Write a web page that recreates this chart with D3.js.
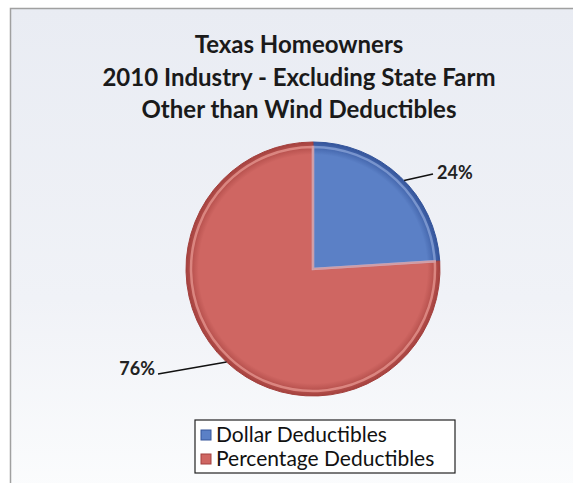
<!DOCTYPE html>
<html>
<head>
<meta charset="utf-8">
<script src="https://cdn.jsdelivr.net/npm/d3@7"></script>
<style>
  body { margin: 0; background: #fff; }
  svg { display: block; }
</style>
</head>
<body>
<svg id="chart" width="573" height="483"></svg>
<script>
'use strict';

var titleLines = ['Texas Homeowners', '2010 Industry - Excluding State Farm', 'Other than Wind Deductibles'];
var categories = ['Dollar Deductibles', 'Percentage Deductibles'];
var values = [24, 76];
var labels = ['24%', '76%'];
var colors = ['#5b80c6', '#cf6662'];
var darkColors = ['#34549a', '#a4413e'];
var lightColors = ['#9db4e4', '#f4aaa4'];

var W = 573, H = 483;
var cx = 313, cy = 269, radius = 127;

var svg = d3.select('#chart');
var defs = svg.append('defs');

// background gradient, scan-like bluish grey fading down
var bg = defs.append('linearGradient').attr('id', 'bg')
  .attr('x1', 0).attr('y1', 0).attr('x2', 0).attr('y2', 1);
bg.append('stop').attr('offset', '0%').attr('stop-color', '#e9ecf3');
bg.append('stop').attr('offset', '60%').attr('stop-color', '#f0f2f7');
bg.append('stop').attr('offset', '100%').attr('stop-color', '#fbfcfd');

svg.append('rect').attr('width', W).attr('height', H).attr('fill', '#fff');
svg.append('rect')
  .attr('x', 10.5).attr('y', 8.5)
  .attr('width', W).attr('height', H)
  .attr('fill', 'url(#bg)')
  .attr('stroke', '#a0a0a0').attr('stroke-width', 1.5);

// title
svg.append('g').selectAll('text')
  .data(titleLines)
  .enter().append('text')
    .attr('x', 299)
    .attr('y', function(d, i) { return 53 + i * 32.5; })
    .attr('text-anchor', 'middle')
    .attr('font-family', 'Lato, "Open Sans", sans-serif')
    .attr('font-weight', 'bold')
    .attr('font-size', 24)
    .attr('fill', '#1a1a1a')
    .text(function(d) { return d; });

// slice shading
colors.forEach(function(c, i) {
  var g = defs.append('radialGradient').attr('id', 'sl' + i)
    .attr('gradientUnits', 'userSpaceOnUse')
    .attr('cx', 0).attr('cy', 0).attr('r', radius);
  g.append('stop').attr('offset', '0%').attr('stop-color', c);
  g.append('stop').attr('offset', '90%').attr('stop-color', c);
  g.append('stop').attr('offset', '100%').attr('stop-color', darkColors[i]);
});

var pie = d3.pie().sort(null).value(function(d) { return d; });
var arcs = pie(values);
var arc = d3.arc().innerRadius(0).outerRadius(radius);
var innerArc = d3.arc().innerRadius(0).outerRadius(radius - 5);

var pg = svg.append('g').attr('transform', 'translate(' + cx + ',' + cy + ')');

pg.selectAll('path.slice')
  .data(arcs)
  .enter().append('path')
    .attr('class', 'slice')
    .attr('d', arc)
    .attr('fill', function(d, i) { return 'url(#sl' + i + ')'; })
    .attr('stroke', function(d, i) { return darkColors[i]; })
    .attr('stroke-width', 1);

// bevel highlight
pg.selectAll('path.hl')
  .data(arcs)
  .enter().append('path')
    .attr('class', 'hl')
    .attr('d', innerArc)
    .attr('fill', 'none')
    .attr('stroke', function(d, i) { return lightColors[i]; })
    .attr('stroke-width', 2.5)
    .attr('opacity', 0.6);

// leader lines and labels, anchored on the slice edge
var edgeAngle = [0.80, 3.89];
var lineEnd = [[433, 174], [158, 374]];
var labelPos = [[437, 179], [155, 375]];
arcs.forEach(function(d, i) {
  var ang = edgeAngle[i];
  var px = cx + Math.sin(ang) * radius, py = cy - Math.cos(ang) * radius;
  svg.append('path')
    .attr('d', 'M' + px + ',' + py + 'L' + lineEnd[i][0] + ',' + lineEnd[i][1])
    .attr('stroke', '#111').attr('stroke-width', 1.5).attr('fill', 'none');
  svg.append('text')
    .attr('x', labelPos[i][0]).attr('y', labelPos[i][1])
    .attr('text-anchor', i === 0 ? 'start' : 'end')
    .attr('font-family', 'Lato, "Open Sans", sans-serif')
    .attr('font-weight', 'bold')
    .attr('font-size', 18)
    .attr('fill', '#222')
    .text(labels[i]);
});

// legend
var lg = svg.append('g').attr('transform', 'translate(195,420)');
lg.append('rect')
  .attr('width', 260).attr('height', 53)
  .attr('fill', '#fff').attr('stroke', '#222').attr('stroke-width', 1.2);
var li = lg.selectAll('g.item')
  .data(categories)
  .enter().append('g')
    .attr('class', 'item')
    .attr('transform', function(d, i) { return 'translate(6,' + (16 + i * 24) + ')'; });
li.append('rect')
  .attr('x', 0).attr('y', -6).attr('width', 10).attr('height', 10)
  .attr('fill', function(d, i) { return colors[i]; })
  .attr('stroke', function(d, i) { return darkColors[i]; });
li.append('text')
  .attr('x', 15).attr('y', 6)
  .attr('font-family', 'Lato, "Open Sans", sans-serif')
  .attr('font-size', 21)
  .attr('fill', '#111')
  .text(function(d) { return d; });
</script>
</body>
</html>
